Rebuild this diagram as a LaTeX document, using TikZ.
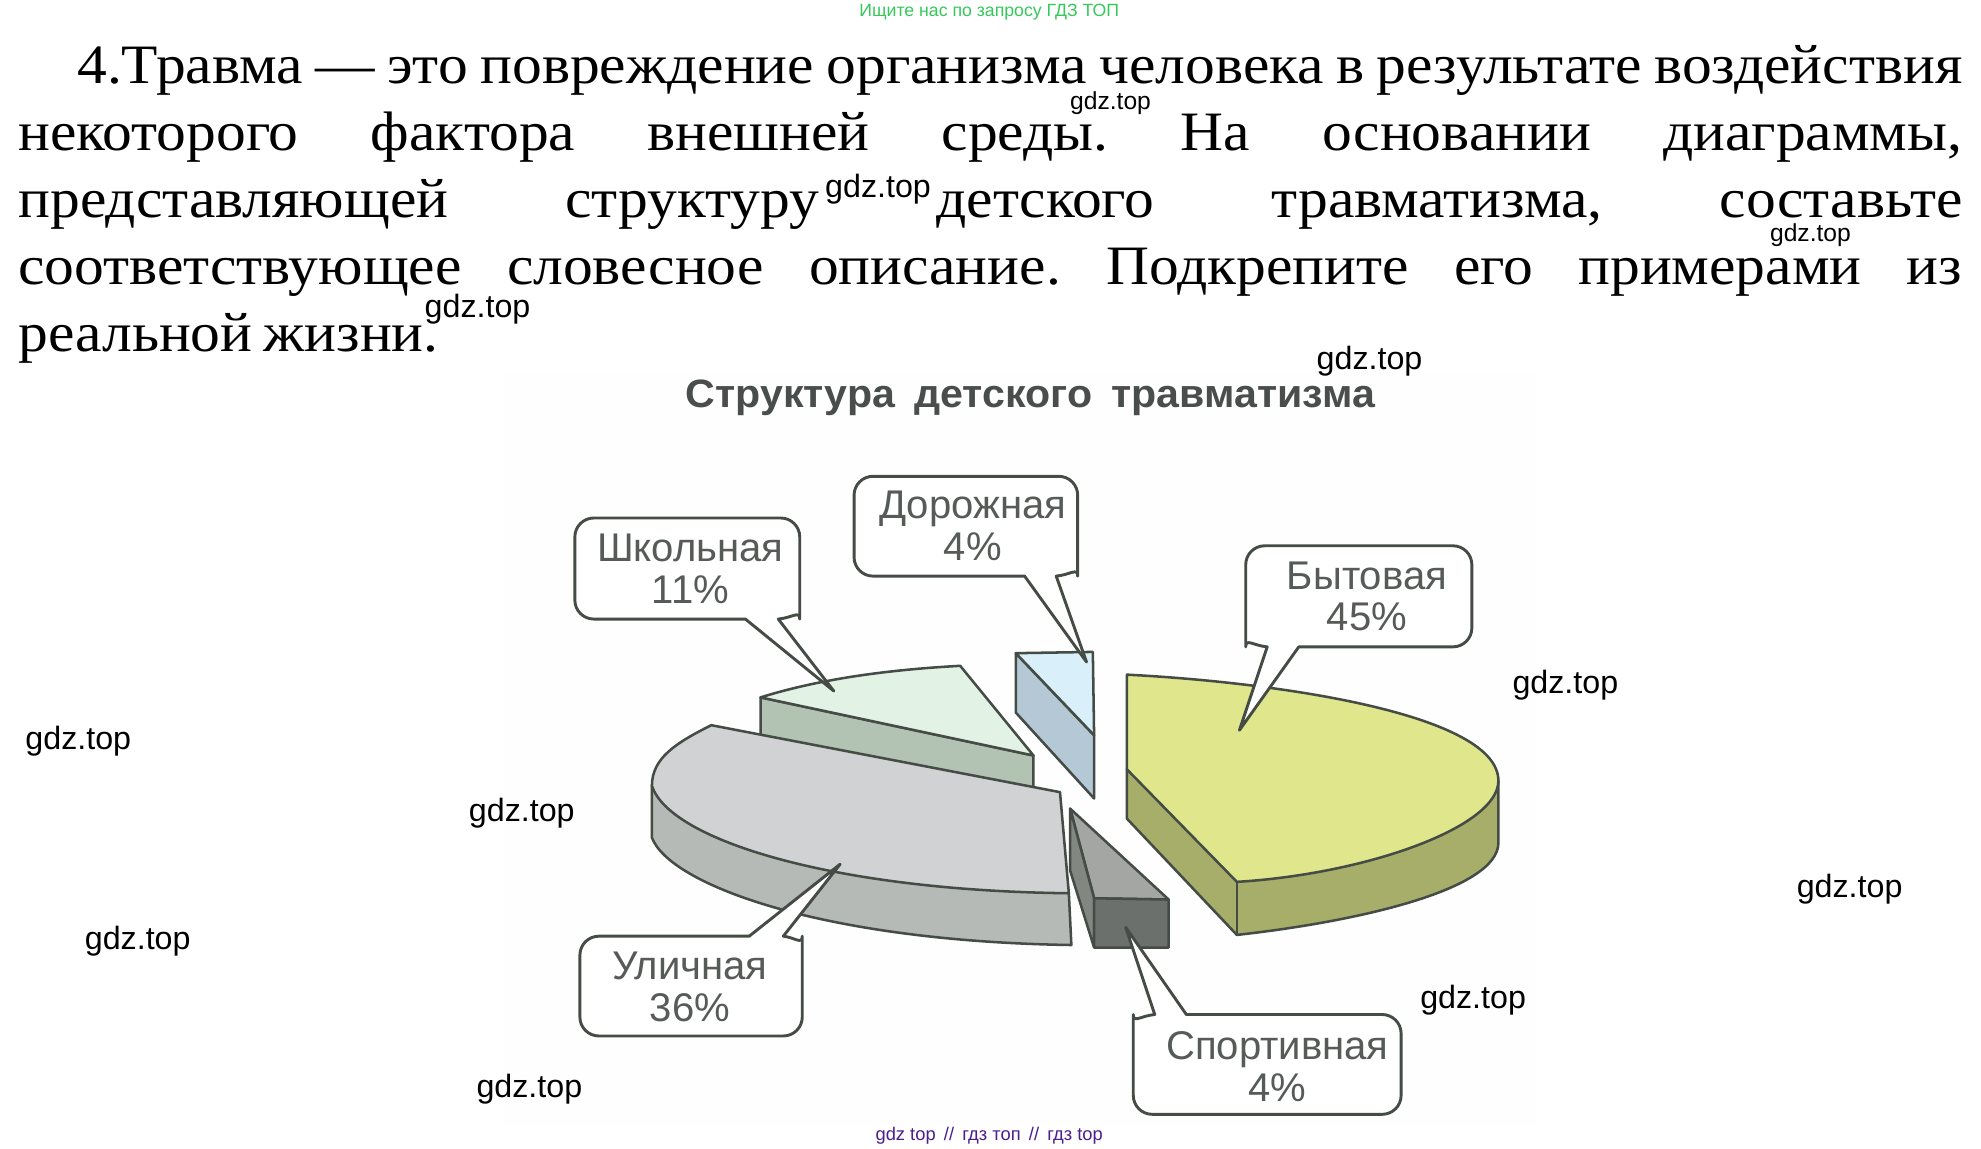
\documentclass[tikz,border=0pt]{standalone}
\usepackage{fontspec}
\setmainfont{Liberation Serif}
\newfontfamily\bodyfont[FakeStretch=1.07]{Liberation Serif}
\newfontfamily\wmfont{Liberation Sans}
\newfontfamily\titlefont[FakeStretch=1.04]{Liberation Sans}
\definecolor{outl}{HTML}{454B45}
\definecolor{lab}{HTML}{565B58}
\definecolor{bytT}{HTML}{DFE68C}
\definecolor{bytS}{HTML}{A6AE6A}
\definecolor{shkT}{HTML}{E2F3E6}
\definecolor{shkS}{HTML}{B3C3B3}
\definecolor{dorT}{HTML}{D9EFF9}
\definecolor{dorS}{HTML}{B5C8D6}
\definecolor{uliT}{HTML}{D0D2D4}
\definecolor{uliS}{HTML}{B6BAB6}
\definecolor{spoT}{HTML}{A3A6A3}
\definecolor{spoL}{HTML}{828782}
\definecolor{spoF}{HTML}{6C706C}
\definecolor{wmgreen}{HTML}{35C95A}
\definecolor{wmpurple}{HTML}{4B1E8E}
\tikzset{
  bodyline/.style={anchor=base west,inner sep=0pt,font=\bodyfont\frenchspacing\fontsize{44}{44}\selectfont},
  wm/.style={inner sep=0pt,font=\wmfont\fontsize{25.5}{25.5}\selectfont,text=black},
  wmsmall/.style={inner sep=0pt,font=\wmfont\fontsize{19.5}{19.5}\selectfont,text=black},
  slice/.style={draw=outl,line width=2pt,line join=round},
  callout/.style={draw=outl,fill=white,line width=2.3pt,line join=round},
  lbl/.style={inner sep=0pt,align=center,text=lab,font=\wmfont\fontsize{31.7}{33}\selectfont}
}
\begin{document}
\begin{tikzpicture}[x=1pt,y=-1pt]
\useasboundingbox[fill=white] (0,0) rectangle (1568,909.4);
\fill[black!0.5] (400,295) rectangle (1215,890);

% body text
\node[bodyline] (l1) at (61,66) {\hbox to 1492pt{\spaceskip=0.2em plus 1fil\relax 4.Травма — это повреждение организма человека в результате воздействия}};
\node[bodyline] (l2) at (14.5,119) {\hbox to 1538.5pt{\spaceskip=0.2em plus 1fil\relax некоторого фактора внешней среды. На основании диаграммы,}};
\node[bodyline] (l3) at (14.5,172) {\hbox to 1538.5pt{\spaceskip=0.2em plus 1fil\relax представляющей структуру детского травматизма, составьте}};
\node[bodyline] (l4) at (14.5,225) {\hbox to 1538.5pt{\spaceskip=0.2em plus 1fil\relax соответствующее словесное описание. Подкрепите его примерами из}};
\node[bodyline] (l5) at (14.5,278) {\hbox{\spaceskip=0.2em\relax реальной жизни.}};

% title
\node[inner sep=0pt,text=lab!85!black,font=\titlefont\bfseries\fontsize{31.3}{31.3}\selectfont] (title) at (815.5,315) {Структура\hspace{0.2em} детского\hspace{0.2em} травматизма};

% Школьная slice
\filldraw[slice,fill=shkS] (602,552) -- (818,598) -- (818,625) -- (602,582) -- cycle;
\filldraw[slice,fill=shkT] (602,552) .. controls (650,537) and (705,530) .. (760,527) -- (818,598) -- cycle;

% Дорожная slice
\filldraw[slice,fill=dorS] (804,517) -- (866,582) -- (866,632) -- (804,564) -- cycle;
\filldraw[slice,fill=dorT] (804,517) -- (865,516) -- (866,582) -- cycle;

% Уличная slice
\filldraw[slice,fill=uliS] (516,622) -- (516,663) .. controls (530,700) and (650,745) .. (848,748) -- (846,707) -- cycle;
\filldraw[slice,fill=uliT] (563,574) -- (839,627) -- (846,707) .. controls (660,705) and (530,665) .. (516,622) .. controls (516,600) and (535,588) .. (563,574) -- cycle;

% Спортивная slice
\filldraw[slice,fill=spoT] (847,640) -- (925,712) -- (866,711) -- cycle;
\filldraw[slice,fill=spoL] (847,640) -- (866,711) -- (866,750) -- (847,689) -- cycle;
\filldraw[slice,fill=spoF] (866,711) -- (925,712) -- (925,750) -- (866,750) -- cycle;

% Бытовая slice
\filldraw[slice,fill=bytS] (892,609) -- (892,648) -- (979,740) .. controls (1070,730) and (1186,705) .. (1186,667) -- (1186,618) -- cycle;
\filldraw[slice,fill=bytT] (892,534) .. controls (1010,540) and (1186,565) .. (1186,618) .. controls (1186,655) and (1080,692) .. (979,698) -- (892,609) -- cycle;
\draw[slice] (979,698) -- (979,740);

% callouts
\draw[callout] (811,456) [rounded corners=15pt] -- (676,456) -- (676,377) -- (853,377) -- (853,441) [sharp corners] .. controls (853,449) and (847,455) .. (836,456) -- (860,524) -- cycle;
\draw[callout] (590,490) [rounded corners=15pt] -- (455,490) -- (455,410) -- (633,410) -- (633,475) [sharp corners] .. controls (633,483) and (627,489) .. (616,490) -- (660,547) -- cycle;
\draw[callout] (1028,512) [rounded corners=15pt] -- (1165,512) -- (1165,432) -- (986,432) -- (986,497) [sharp corners] .. controls (986,505) and (992,511) .. (1003,512) -- (981,578) -- cycle;
\draw[callout] (593,741) [rounded corners=15pt] -- (459,741) -- (459,820) -- (635,820) -- (635,756) [sharp corners] .. controls (635,748) and (629,742) .. (620,741) -- (665,684) -- cycle;
\draw[callout] (939,803) [rounded corners=15pt] -- (1109,803) -- (1109,882) -- (897,882) -- (897,818) [sharp corners] .. controls (897,810) and (903,804) .. (914,803) -- (891,734) -- cycle;

\node[lbl] (dor) at (770,416) {Дорожная\\4\%};
\node[lbl] (shk) at (546.5,450) {Школьная\\11\%};
\node[lbl] (byt) at (1082,472) {Бытовая\\45\%};
\node[lbl] (uli) at (546,781) {Уличная\\36\%};
\node[lbl] (spo) at (1011,844) {Спортивная\\4\%};

% watermarks
\node[inner sep=0pt,text=wmgreen,font=\wmfont\fontsize{14}{14}\selectfont] (wtop) at (783,10) {Ищите нас по запросу ГДЗ ТОП};
\node[inner sep=0pt,text=wmpurple,font=\wmfont\fontsize{14.5}{14.5}\selectfont] (wbot) at (783,899) {gdz top\hspace{0.45em}//\hspace{0.45em}гдз топ\hspace{0.45em}//\hspace{0.45em}гдз top};
\node[wmsmall] (w1) at (879,82) {gdz.top};
\node[wm] (w2) at (695,150) {gdz.top};
\node[wmsmall] (w3) at (1433,186) {gdz.top};
\node[wm] (w4) at (378,245) {gdz.top};
\node[wm] (w5) at (1084,286) {gdz.top};
\node[wm] (w6) at (1239,542) {gdz.top};
\node[wm] (w7) at (62,587) {gdz.top};
\node[wm] (w8) at (413,644) {gdz.top};
\node[wm] (w9) at (1464,704) {gdz.top};
\node[wm] (w10) at (109,745) {gdz.top};
\node[wm] (w11) at (1166,792) {gdz.top};
\node[wm] (w12) at (419,862) {gdz.top};
\end{tikzpicture}
\end{document}
